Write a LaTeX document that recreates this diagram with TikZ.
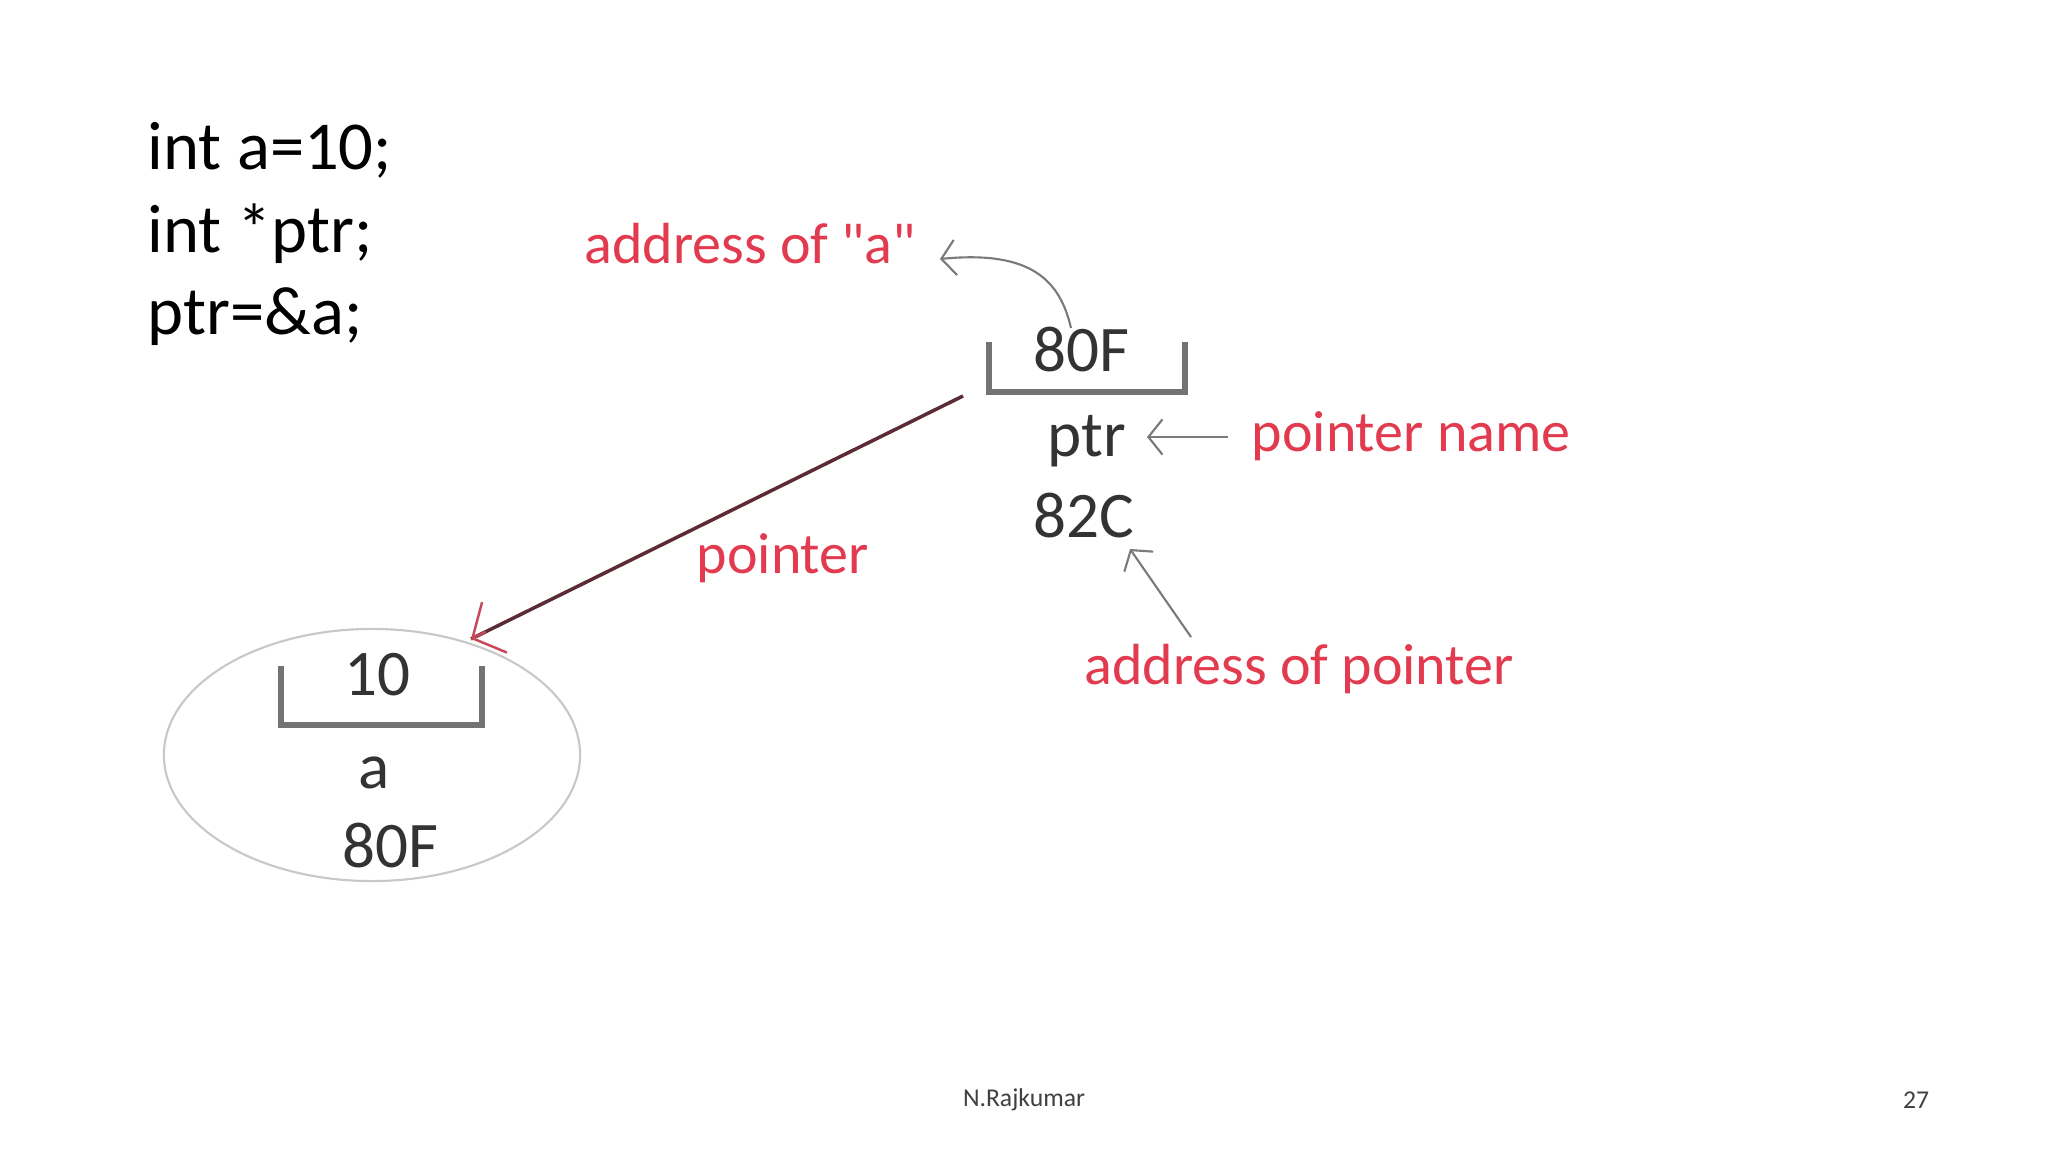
\documentclass[tikz,border=0pt]{standalone}
\usepackage{fontspec}
\setmainfont{Carlito}
\newfontfamily\rawfont{Carlito}
\usetikzlibrary{arrows.meta,shapes.geometric,calc}
\definecolor{redlbl}{HTML}{E23A4E}
\definecolor{inkgray}{HTML}{333333}
\definecolor{boxgray}{HTML}{737373}
\definecolor{arrgray}{HTML}{7A7A7A}
\definecolor{ptrline}{HTML}{5C2C34}
\definecolor{ptrhead}{HTML}{C8485A}
\definecolor{ellgray}{HTML}{C8C8C8}
\tikzset{
  code/.style={anchor=base west, inner sep=0pt, font=\fontsize{19.5}{23}\selectfont, text=black},
  lbl/.style={inner sep=0pt, font=\fontsize{18.5}{22}\selectfont, text=inkgray},
  redtxt/.style={inner sep=0pt, font=\fontsize{16.5}{20}\selectfont, text=redlbl},
  bracket/.style={draw=boxgray, line width=1.5pt},
  thinarrow/.style={draw=arrgray, line width=0.6pt, -{Straight Barb[length=4pt,width=10pt,line width=0.6pt]}},
  foot/.style={inner sep=0pt, font=\fontsize{7.3}{9}\selectfont, text=black!75},
}
\begin{document}
\begin{tikzpicture}[x=0.01cm, y=-0.01cm]
\useasboundingbox[fill=white] (0,0) rectangle (2048,1152);

% code
\node[code] (l1) at (147,170) {int a=10;};
\node[code] (l2) at (147,253) {int *ptr;};
\node[code] (l3) at (147,335) {ptr=\&a;};

% pointer variable
\node[lbl] (ptrval) at (1081,350) {80F};
\draw[bracket] (989,342) -- (989,392) -- (1185,392) -- (1185,342);
\node[lbl] (ptrname) at (1087,441) {ptr};
\node[lbl] (ptraddr) at (1084,516) {82C};

% variable a
\node[draw=ellgray, line width=0.6pt, ellipse, minimum width=4.16cm, minimum height=2.52cm] (varA) at (372,755) {};
\node[lbl] (aval) at (377,675) {10};
\draw[bracket] (281,666) -- (281,725) -- (482,725) -- (482,666);
\node[lbl] (aname) at (374,773) {a};
\node[lbl] (aaddr) at (390,846) {80F};

% red labels
\node[redtxt, anchor=west] (addrA) at (584,244) {address of {\rawfont "a"}};
\node[redtxt, anchor=west] (pname) at (1251,436) {pointer name};
\node[redtxt, anchor=west] (pptr) at (696,558) {pointer};
\node[redtxt, anchor=west] (addrP) at (1084,669) {address of pointer};

% connector end points
\coordinate (pstart) at (963,396);
\coordinate (pend) at (471,639);
\coordinate (aTail) at (1071,328);
\coordinate (aTip) at (940,259);
\coordinate (nTail) at (1228,437);
\coordinate (nTip) at (1147,437);
\coordinate (qTail) at (1191,637);
\coordinate (qTip) at (1130,549);

% connectors
\draw[draw=ptrline, line width=1pt] (pstart) -- (pend);
\draw[draw=ptrhead, line width=0.7pt, -{Straight Barb[length=7pt,width=16pt,line width=0.7pt]}] ($(pstart)!0.97!(pend)$) -- (pend);
\draw[thinarrow] (aTail) .. controls (1060,281) and (1032,250) .. (aTip);
\draw[thinarrow] (nTail) -- (nTip);
\draw[thinarrow] (qTail) -- (qTip);

% footer
\node[foot] (author) at (1024,1100) {N.Rajkumar};
\node[foot] (page) at (1916,1100) {27};
\end{tikzpicture}
\end{document}
